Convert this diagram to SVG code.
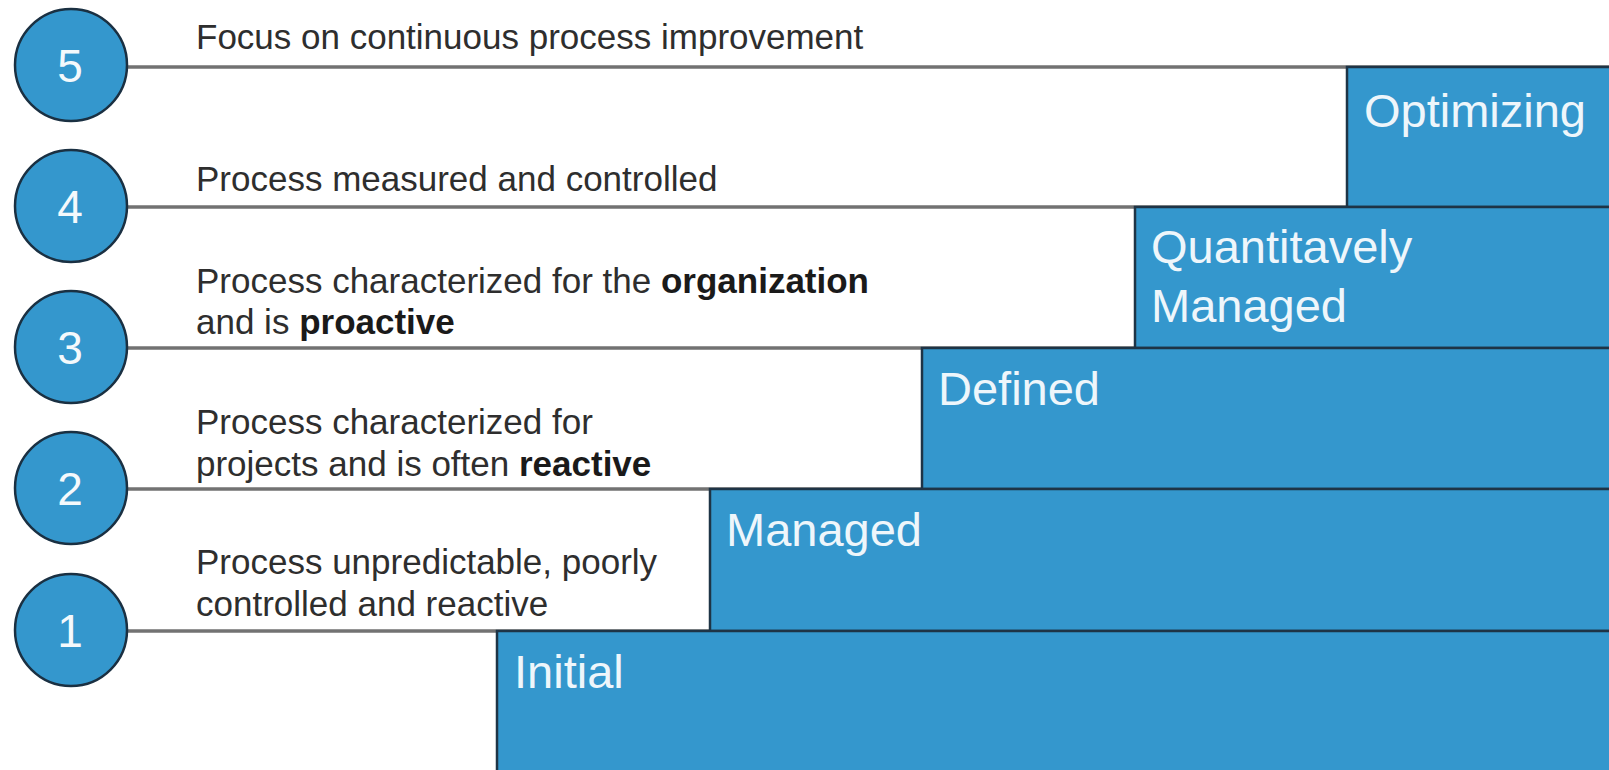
<svg xmlns="http://www.w3.org/2000/svg" width="1609" height="770" viewBox="0 0 1609 770">
<style>
.line{stroke:#727272;stroke-width:3.5;fill:none}
.box{fill:#3497cd;stroke:#1e3446;stroke-width:2.5}
.circ{fill:#3497cd;stroke:#1a3042;stroke-width:2.5}
.num{font-family:"Liberation Sans",Arial,sans-serif;font-size:46px;fill:#f4f9fc;text-anchor:middle}
.lbl{font-family:"Liberation Sans",Arial,sans-serif;font-size:47px;fill:#eef6fb}
.desc{font-family:"Liberation Sans",Arial,sans-serif;font-size:35px;fill:#2e2e2e}
.b{font-weight:bold;fill:#1a1a1a}
</style>
<rect width="1609" height="770" fill="#ffffff"/>
<g id="connectors">
<line class="line" x1="128" y1="67" x2="1609" y2="67"/>
<line class="line" x1="128" y1="207" x2="1347" y2="207"/>
<line class="line" x1="128" y1="348" x2="1135" y2="348"/>
<line class="line" x1="128" y1="489" x2="922" y2="489"/>
<line class="line" x1="128" y1="631" x2="710" y2="631"/>
</g>
<g id="level-optimizing">
<rect class="box" x="1347" y="67" width="270" height="140"/>
<text class="lbl" x="1364" y="127">Optimizing</text>
</g>
<g id="level-quantitatively-managed">
<rect class="box" x="1135" y="207" width="480" height="141"/>
<text class="lbl" x="1151" y="263">Quantitavely</text>
<text class="lbl" x="1151" y="322">Managed</text>
</g>
<g id="level-defined">
<rect class="box" x="922" y="348" width="695" height="141"/>
<text class="lbl" x="938" y="405">Defined</text>
</g>
<g id="level-managed">
<rect class="box" x="710" y="489" width="905" height="142"/>
<text class="lbl" x="726" y="546">Managed</text>
</g>
<g id="level-initial">
<rect class="box" x="497" y="631" width="1120" height="150"/>
<text class="lbl" x="514" y="688">Initial</text>
</g>
<g id="circle-5">
<circle class="circ" cx="71" cy="65" r="56"/>
<text class="num" x="70" y="82">5</text>
</g>
<g id="circle-4">
<circle class="circ" cx="71" cy="206" r="56"/>
<text class="num" x="70" y="223">4</text>
</g>
<g id="circle-3">
<circle class="circ" cx="71" cy="347" r="56"/>
<text class="num" x="70" y="364">3</text>
</g>
<g id="circle-2">
<circle class="circ" cx="71" cy="488" r="56"/>
<text class="num" x="70" y="505">2</text>
</g>
<g id="circle-1">
<circle class="circ" cx="71" cy="630" r="56"/>
<text class="num" x="70" y="647">1</text>
</g>
<g id="desc-5"><text class="desc" x="196" y="49">Focus on continuous process improvement</text></g>
<g id="desc-4"><text class="desc" x="196" y="191">Process measured and controlled</text></g>
<g id="desc-3">
<text class="desc" x="196" y="293">Process characterized for the <tspan class="b">organization</tspan></text>
<text class="desc" x="196" y="334">and is <tspan class="b">proactive</tspan></text>
</g>
<g id="desc-2">
<text class="desc" x="196" y="434">Process characterized for</text>
<text class="desc" x="196" y="476">projects and is often <tspan class="b">reactive</tspan></text>
</g>
<g id="desc-1">
<text class="desc" x="196" y="574">Process unpredictable, poorly</text>
<text class="desc" x="196" y="616">controlled and reactive</text>
</g>
</svg>
